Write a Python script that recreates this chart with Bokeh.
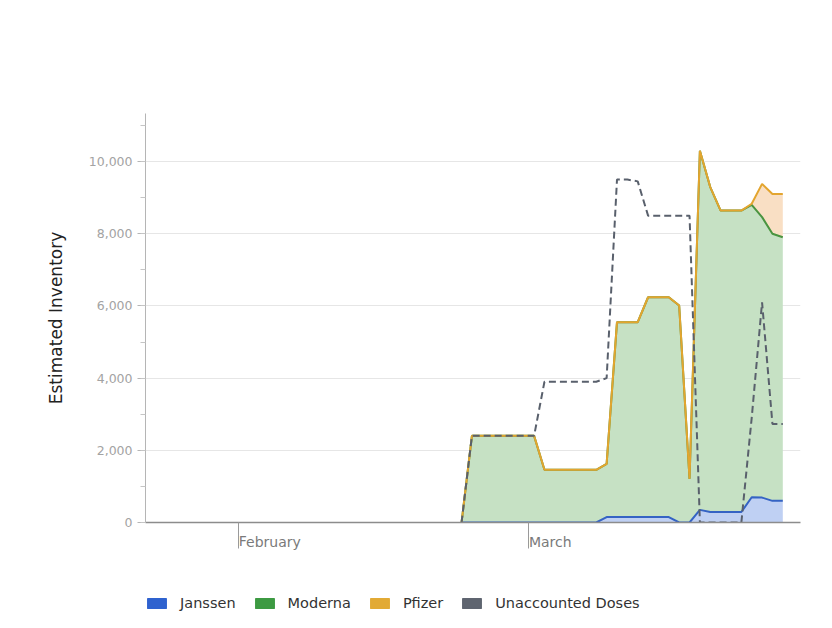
import pandas as pd
from bokeh.plotting import figure
from bokeh.layouts import column
from bokeh.models import (ColumnDataSource, Range1d, FixedTicker, SingleIntervalTicker,
                          NumeralTickFormatter, DatetimeTickFormatter, Legend, LegendItem)
from bokeh.transform import stack
from bokeh.embed import file_html
from bokeh.resources import INLINE

# ---------------- data ----------------
dates = [
    "2021-02-22", "2021-02-23", "2021-02-24", "2021-02-25", "2021-02-26", "2021-02-27", "2021-02-28",
    "2021-03-01", "2021-03-02", "2021-03-03", "2021-03-04", "2021-03-05", "2021-03-06", "2021-03-07",
    "2021-03-08", "2021-03-09", "2021-03-10", "2021-03-11", "2021-03-12", "2021-03-13", "2021-03-14",
    "2021-03-15", "2021-03-16", "2021-03-17", "2021-03-18", "2021-03-19", "2021-03-20", "2021-03-21",
    "2021-03-22", "2021-03-23", "2021-03-24", "2021-03-25",
]
janssen = [0, 0, 0, 0, 0, 0, 0,
           0, 0, 0, 0, 0, 0, 0,
           150, 150, 150, 150, 150, 150, 150,
           0, 0, 350, 290, 290, 290, 290,
           700, 690, 600, 600]
moderna = [0, 2400, 2400, 2400, 2400, 2400, 2400,
           2400, 1460, 1460, 1460, 1460, 1460, 1460,
           1475, 5400, 5400, 5400, 6090, 6090, 6090,
           6010, 1210, 9950, 9000, 8350, 8350, 8350,
           8100, 7770, 7400, 7300]
pfizer = [0, 0, 0, 0, 0, 0, 0,
          0, 0, 0, 0, 0, 0, 0,
          0, 0, 0, 0, 0, 0, 0,
          0, 0, 0, 0, 0, 0, 0,
          30, 920, 1100, 1200]
unaccounted = [0, 2400, 2400, 2400, 2400, 2400, 2400,
               2400, 3900, 3900, 3900, 3900, 3900, 3900,
               4000, 9500, 9500, 9450, 8500, 8500, 8500,
               8500, 8500, 0, 0, 0, 0, 0,
               2900, 6100, 2730, 2730]

series_names = ["Janssen", "Moderna", "Pfizer", "Unaccounted Doses"]
series_keys = ["janssen", "moderna", "pfizer", "unaccounted"]
x_tick_dates = ["2021-02-01", "2021-03-01"]
x_start, x_end = "2021-01-23 00:00", "2021-03-27 05:00"
y_max = 11330
y_label = "Estimated Inventory"

# ---------------- styles ----------------
FONT = "DejaVu Sans"
line_colors = ["#3563c4", "#4a9440", "#e3a52f"]
fill_colors = ["#bfd0f3", "#c6e1c4", "#f9dfc4"]
legend_colors = ["#2f62cf", "#3d9a42", "#e2aa35", "#5f6570"]
dash_color = "#59606c"

x = pd.to_datetime(dates) + pd.Timedelta(hours=12)
src = ColumnDataSource(dict(x=x, janssen=janssen, moderna=moderna, pfizer=pfizer,
                            unaccounted=unaccounted))

p = figure(width=824, height=560, frame_width=655, frame_height=409,
           x_axis_type="datetime", output_backend="svg", toolbar_location=None,
           x_range=Range1d(pd.Timestamp(x_start), pd.Timestamp(x_end)),
           y_range=Range1d(0, y_max),
           min_border_left=145, min_border_right=24, min_border_top=113, min_border_bottom=38)
p.outline_line_color = None
p.background_fill_color = "white"

keys = series_keys[:3]
p.varea_stack(keys, x="x", color=fill_colors, source=src)
for i, c in enumerate(line_colors):
    p.line(x="x", y=stack(*keys[:i + 1]), color=c, line_width=2, source=src)
p.line("x", "unaccounted", source=src, color=dash_color, line_width=2, line_dash="7 4")

# axes
p.xgrid.grid_line_color = None
p.ygrid.grid_line_color = "#e6e6e6"
p.ygrid.grid_line_width = 1

p.yaxis.ticker = SingleIntervalTicker(interval=2000, num_minor_ticks=2)
p.yaxis.formatter = NumeralTickFormatter(format="0,0")
p.yaxis.axis_line_color = "#b5b5b5"
p.yaxis.major_tick_line_color = "#b5b5b5"
p.yaxis.minor_tick_line_color = "#c5c5c5"
p.yaxis.major_tick_out = 8
p.yaxis.major_tick_in = 0
p.yaxis.minor_tick_out = 5
p.yaxis.minor_tick_in = 0
p.yaxis.major_label_text_font = FONT
p.yaxis.major_label_text_font_size = "12.5px"
p.yaxis.major_label_text_color = "#a3a3a3"
p.yaxis.major_label_standoff = 5
p.yaxis.axis_label = y_label
p.yaxis.axis_label_text_font = FONT
p.yaxis.axis_label_text_font_style = "normal"
p.yaxis.axis_label_text_font_size = "17px"
p.yaxis.axis_label_text_color = "#222222"
p.yaxis.axis_label_standoff = 20

tick_ts = [pd.Timestamp(d) for d in x_tick_dates]
p.xaxis.ticker = FixedTicker(ticks=[t.value / 1e6 for t in tick_ts], minor_ticks=[])
p.xaxis.formatter = DatetimeTickFormatter(days="%B", months="%B", years="%B")
p.xaxis.axis_line_color = "#8c8c8c"
p.xaxis.axis_line_width = 1.5
p.xaxis.major_tick_line_color = "#9a9a9a"
p.xaxis.major_tick_out = 26
p.xaxis.major_tick_in = 0
p.xaxis.minor_tick_line_color = None
p.xaxis.major_label_text_font = FONT
p.xaxis.major_label_text_font_size = "14px"
p.xaxis.major_label_text_color = "#7a7a7a"
p.xaxis.major_label_orientation = -0.0001
p.xaxis.major_label_standoff = -7

# legend (separate strip under the chart; its proxies sit outside its ranges)
lg = figure(width=824, height=60, output_backend="svg", toolbar_location=None,
            x_range=Range1d(0, 1), y_range=Range1d(0, 1),
            x_axis_location=None, y_axis_location=None, min_border=0)
lg.outline_line_color = None
lg.xgrid.visible = False
lg.ygrid.visible = False
items = []
for name, key, c in zip(series_names, series_keys, legend_colors):
    r = lg.quad(left="x", right="x", top=key, bottom=key, source=src,
                fill_color=c, line_color=c, line_join="round", line_width=1.5)
    items.append(LegendItem(label=name, renderers=[r]))
legend = Legend(items=items, orientation="horizontal", location=(0, 9),
                glyph_width=23, glyph_height=12, label_standoff=12, spacing=17,
                padding=0, margin=0, border_line_color=None, background_fill_alpha=0,
                label_text_font=FONT, label_text_font_size="14.5px",
                label_text_color="#333333")
lg.add_layout(legend)

open("out.html", "w").write(file_html(column(p, lg, spacing=0), INLINE))
